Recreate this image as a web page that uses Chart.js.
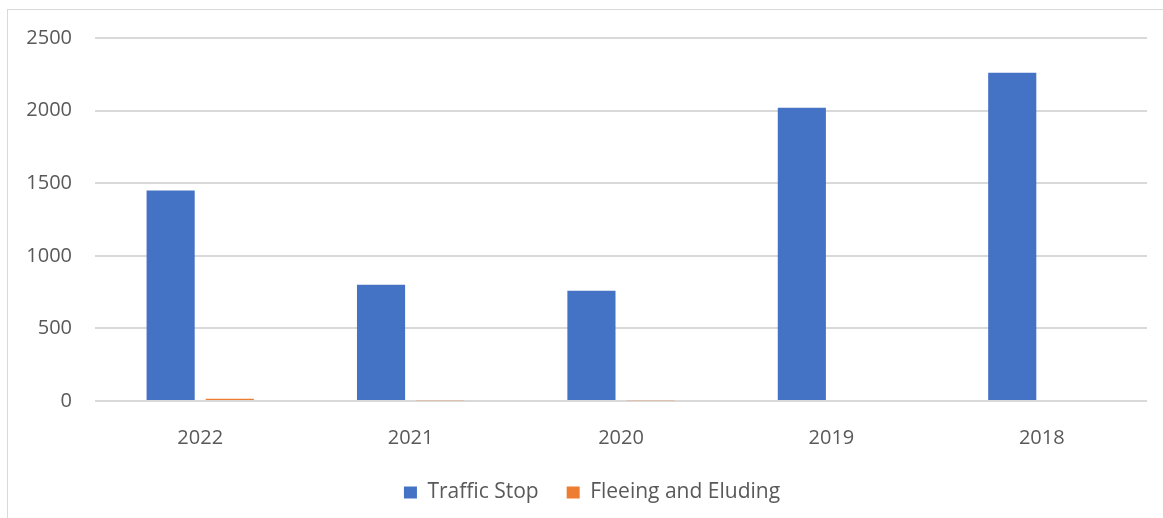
<!DOCTYPE html>
<html>
<head>
<meta charset="utf-8">
<script src="https://cdn.jsdelivr.net/npm/chart.js@4.4.1/dist/chart.umd.min.js"></script>
<style>
  html, body { margin: 0; padding: 0; background: #fff; overflow: hidden; }
  #frame {
    position: absolute;
    left: 7px;
    top: 9px;
    width: 1170px;
    height: 530px;
    border: 1px solid #d9d9d9;
    box-sizing: border-box;
  }
  #chart { position: absolute; left: 0; top: 0; }
</style>
</head>
<body>
<div id="frame">
  <canvas id="chart" width="1168" height="528"></canvas>
</div>
<script>
// years, in the order shown
const years = ["2022", "2021", "2020", "2019", "2018"];

// series values
const trafficStop = [1450, 800, 760, 2020, 2260];
const fleeingAndEluding = [15, 6, 6, null, null];

const yTicks = [0, 500, 1000, 1500, 2000, 2500];

const TEXT = "#595959";
const GRID = "#d9d9d9";
const FONT = "'Open Sans', sans-serif";

const ctx = document.getElementById("chart");

new Chart(ctx, {
  type: "bar",
  data: {
    labels: years,
    datasets: [
      {
        label: "Traffic Stop",
        data: trafficStop,
        backgroundColor: "#4472c4",
        borderWidth: 0,
      },
      {
        label: "Fleeing and Eluding",
        data: fleeingAndEluding,
        backgroundColor: "#ed7d31",
        borderWidth: 0,
      },
    ],
  },
  options: {
    animation: false,
    responsive: false,
    devicePixelRatio: 1,
    categoryPercentage: 0.562,
    barPercentage: 0.814,
    layout: {
      padding: { top: 28, right: 0, bottom: 25, left: 0 },
    },
    plugins: {
      legend: {
        display: true,
        position: "bottom",
        labels: {
          color: TEXT,
          font: { size: 21, family: FONT },
          boxWidth: 13,
          boxHeight: 12,
          padding: 28,
        },
      },
      tooltip: { enabled: false },
    },
    scales: {
      x: {
        // fixed axis height so the plot bottom lands on the 0 line
        afterFit: (scale) => {
          scale.height = 53;
          scale.paddingLeft = 0;
          scale.paddingRight = 0;
        },
        grid: { display: false, drawTicks: false },
        border: { display: false },
        ticks: {
          color: TEXT,
          font: { size: 20, family: FONT },
          padding: 25,
          maxRotation: 0,
        },
      },
      y: {
        min: 0,
        max: 2500,
        afterFit: (scale) => {
          scale.width = 87;
          scale.paddingTop = 0;
          scale.paddingBottom = 0;
        },
        afterBuildTicks: (scale) => {
          scale.ticks = yTicks.map((v) => ({ value: v }));
        },
        grid: { color: GRID, lineWidth: 2, drawTicks: false },
        border: { display: false },
        ticks: {
          color: TEXT,
          font: { size: 20, family: FONT },
          padding: 23,
          callback: (value) => String(value),
        },
      },
      // empty right gutter, keeps the legend centred on the whole frame
      gutter: {
        type: "linear",
        position: "right",
        display: true,
        afterFit: (scale) => {
          scale.width = 29;
          scale.paddingTop = 0;
          scale.paddingBottom = 0;
        },
        grid: { display: false, drawTicks: false },
        border: { display: false },
        ticks: { display: false },
      },
    },
  },
});
</script>
</body>
</html>
